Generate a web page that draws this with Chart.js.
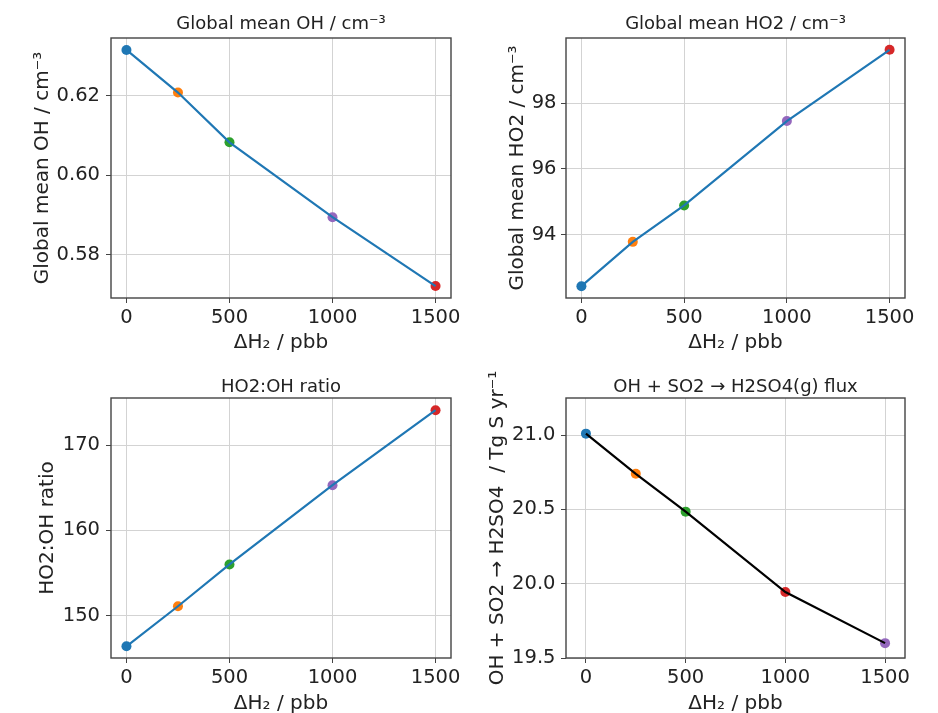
<!DOCTYPE html>
<html>
<head>
<meta charset="utf-8">
<script src="https://cdn.jsdelivr.net/npm/chart.js@4.4.1/dist/chart.umd.min.js"></script>
<style>
  html, body { margin: 0; background: #fff; }
  #sheet { position: relative; width: 938px; height: 713px; overflow: hidden; }
  #sheet canvas { position: absolute; }
</style>
</head>
<body>
<div id="sheet">
  <canvas id="ohChart" width="469" height="356" style="left:0;top:0"></canvas>
  <canvas id="ho2Chart" width="469" height="356" style="left:469px;top:0"></canvas>
  <canvas id="ratioChart" width="469" height="357" style="left:0;top:356px"></canvas>
  <canvas id="fluxChart" width="469" height="357" style="left:469px;top:356px"></canvas>
</div>
<script>
// H2 perturbation runs: oxidant response and sulfate production flux
const deltaH2 = [0, 250, 500, 1000, 1500];
const meanOH = [0.6315, 0.6208, 0.6083, 0.5895, 0.5722];
const meanHO2 = [92.43, 93.78, 94.89, 97.46, 99.63];
const ho2ohRatio = [146.4, 151.1, 156.0, 165.3, 174.1];
const so2Flux = [21.01, 20.74, 20.485, 19.944, 19.60];

const xTicks = [0, 500, 1000, 1500];
const ohTicks = [0.58, 0.60, 0.62];
const ho2Ticks = [94, 96, 98];
const ratioTicks = [150, 160, 170];
const fluxTicks = [19.5, 20.0, 20.5, 21.0];

const C = { blue: "#1f77b4", orange: "#ff7f0e", green: "#2ca02c", red: "#d62728", purple: "#9467bd" };
const runColors = [C.blue, C.orange, C.green, C.purple, C.red];
const fluxColors = [C.blue, C.orange, C.green, C.red, C.purple];

const FONT = "'DejaVu Sans', Verdana, sans-serif";
const INK = "#222";
const GRID = "#d3d3d3";
const SPINE = "#444";

// full box around the plot area, drawn over the data like matplotlib spines
const frame = {
  id: "frame",
  afterDatasetsDraw(chart) {
    const { ctx, chartArea: a } = chart;
    ctx.save();
    ctx.strokeStyle = SPINE;
    ctx.lineWidth = 1.4;
    ctx.strokeRect(a.left, a.top, a.right - a.left, a.bottom - a.top);
    ctx.restore();
  },
};

// panel title centred over the plot area, and the vertical y label
// (drawn here so Chart.js does not squeeze long text to the axis height)
const labels = {
  id: "labels",
  afterDraw(chart, _args, opts) {
    const { ctx, chartArea: a } = chart;
    ctx.save();
    ctx.fillStyle = INK;
    ctx.textAlign = "center";
    ctx.textBaseline = "alphabetic";
    ctx.font = `18px ${FONT}`;
    ctx.fillText(opts.title, (a.left + a.right) / 2, opts.titleY);
    ctx.translate(opts.yTitleX, (a.top + a.bottom) / 2);
    ctx.rotate(-Math.PI / 2);
    ctx.font = `20px ${FONT}`;
    ctx.fillText(opts.yTitle, 0, 0);
    ctx.restore();
  },
};
Chart.register(frame, labels);

function panel(id, cfg) {
  const points = deltaH2.map((x, i) => ({ x, y: cfg.values[i] }));
  const gridOpts = { color: GRID, lineWidth: 1, tickColor: SPINE, tickLength: 5, drawTicks: true };
  return new Chart(document.getElementById(id), {
    type: "line",
    data: {
      datasets: [
        { data: points, borderColor: cfg.line, borderWidth: 2.2, tension: 0, pointRadius: 0, order: 0 },
        {
          type: "scatter", data: points, showLine: false, order: 1,
          pointRadius: 5, pointBorderWidth: 0, pointBackgroundColor: cfg.dots,
        },
      ],
    },
    options: {
      responsive: false,
      animation: false,
      layout: { padding: { left: 0, top: cfg.plotTop, bottom: 0, right: cfg.rightPad } },
      plugins: {
        legend: { display: false },
        tooltip: { enabled: false },
        labels: { title: cfg.title, titleY: cfg.titleY, yTitle: cfg.yTitle, yTitleX: cfg.yTitleX },
      },
      scales: {
        x: {
          type: "linear", min: cfg.xMin, max: cfg.xMax,
          afterBuildTicks: (s) => { s.ticks = xTicks.map((value) => ({ value })); },
          afterFit: (s) => { s.height = cfg.xAxisH; },
          grid: gridOpts,
          border: { display: false },
          ticks: {
            color: INK, font: { family: FONT, size: 19.5 }, padding: 3,
            autoSkip: false, maxRotation: 0, callback: (v) => String(v),
          },
          title: {
            display: true, text: "ΔH₂ / pbb", color: INK,
            font: { family: FONT, size: 20 }, padding: { top: 0, bottom: cfg.xTitlePad },
          },
        },
        y: {
          type: "linear", min: cfg.yMin, max: cfg.yMax,
          afterBuildTicks: (s) => { s.ticks = cfg.ticks.map((value) => ({ value })); },
          afterFit: (s) => { s.width = cfg.yAxisW; },
          grid: gridOpts,
          border: { display: false },
          ticks: {
            color: INK, font: { family: FONT, size: 19.5 }, padding: cfg.yTickPad,
            callback: (v) => Number(v).toFixed(cfg.digits),
          },
        },
      },
    },
  });
}

panel("ohChart", {
  values: meanOH, line: C.blue, dots: runColors, ticks: ohTicks, digits: 2,
  xMin: -75, xMax: 1575, yMin: 0.5692, yMax: 0.6345,
  title: "Global mean OH / cm⁻³", titleY: 29, plotTop: 38,
  yTitle: "Global mean OH / cm⁻³", yTitleX: 48,
  yAxisW: 111, rightPad: 18, xAxisH: 58, xTitlePad: 1, yTickPad: 6,
});

panel("ho2Chart", {
  values: meanHO2, line: C.blue, dots: runColors, ticks: ho2Ticks, digits: 0,
  xMin: -75, xMax: 1575, yMin: 92.07, yMax: 99.99,
  title: "Global mean HO2 / cm⁻³", titleY: 29, plotTop: 38,
  yTitle: "Global mean HO2 / cm⁻³", yTitleX: 54,
  yAxisW: 97, rightPad: 33, xAxisH: 58, xTitlePad: 1, yTickPad: 4.5,
});

panel("ratioChart", {
  values: ho2ohRatio, line: C.blue, dots: runColors, ticks: ratioTicks, digits: 0,
  xMin: -75, xMax: 1575, yMin: 145.03, yMax: 175.53,
  title: "HO2:OH ratio", titleY: 35.5, plotTop: 42,
  yTitle: "HO2:OH ratio", yTitleX: 53,
  yAxisW: 111, rightPad: 18, xAxisH: 55, xTitlePad: -3, yTickPad: 6,
});

panel("fluxChart", {
  values: so2Flux, line: "#000", dots: fluxColors, ticks: fluxTicks, digits: 1,
  xMin: -100, xMax: 1600, yMin: 19.5, yMax: 21.25,
  title: "OH + SO2 → H2SO4(g) flux", titleY: 35.5, plotTop: 42,
  yTitle: "OH + SO2 → H2SO4  / Tg S yr⁻¹", yTitleX: 34,
  yAxisW: 97, rightPad: 33, xAxisH: 55, xTitlePad: -3, yTickPad: 5.5,
});
</script>
</body>
</html>
